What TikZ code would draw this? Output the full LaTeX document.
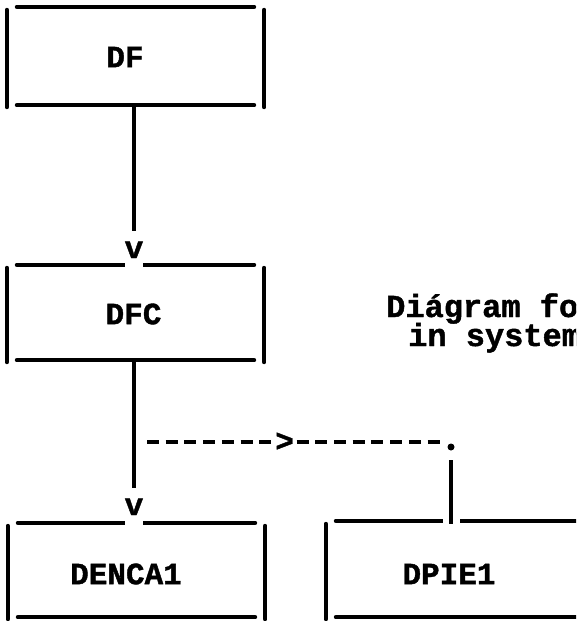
\documentclass[tikz,border=0pt]{standalone}
\usepackage{fontspec}
\setmonofont{Liberation Mono}[BoldFeatures={FakeBold=1.3}]
\usetikzlibrary{positioning}

\begin{document}
\begin{tikzpicture}[
        x=1pt, y=-1pt,
        font=\ttfamily\bfseries\fontsize{31}{37}\selectfont,
        box/.style={rectangle, minimum width=257pt, minimum height=96pt, inner sep=0pt},
        edge/.style={line width=4pt, line cap=round},
        link/.style={line width=4pt},
        tip/.style={fill=white, inner sep=0pt, minimum width=18pt, text depth=10pt, anchor=base},
        dashlink/.style={line width=4pt, dash pattern=on 12pt off 6.7pt},
        dotmark/.style={circle, fill=black, inner sep=0pt, minimum size=7pt},
        note/.style={anchor=base west, inner sep=0pt, font=\ttfamily\bfseries\fontsize{32}{38}\selectfont}
    ]
        \useasboundingbox (0,0) rectangle (576,621);
        \clip (0,0) rectangle (576,621);

        % Boxes
        \node[box, minimum height=98pt] (dfbox) at (135.5,56) {};
        \node[box, minimum height=95pt] (dfcbox) at (135.5,312.5) {};
        \node[box, minimum height=94pt] (dencabox) at (136.5,570) {};
        \node[box, minimum height=96pt, minimum width=274pt] (dpiebox) at (463,569) {};
        \foreach \b in {dfbox,dfcbox,dencabox,dpiebox} {
            \draw[edge] ([xshift=10pt]\b.north west) -- ([xshift=-10pt]\b.north east);
            \draw[edge] ([xshift=10pt]\b.south west) -- ([xshift=-10pt]\b.south east);
            \draw[edge] ([yshift=-3pt]\b.north west) -- ([yshift=-2pt]\b.south west);
            \draw[edge] ([yshift=-3pt]\b.north east) -- ([yshift=-2pt]\b.south east);
        }

        % Labels
        \node (df) at (125,57) {DF};
        \node (dfc) at (133.5,314) {DFC};
        \node (denca) at (126,574) {DENCA1};
        \node (dpie) at (449,574) {DPIE1};
        \node[note] (note1) at (386,317) {Diágram for};
        \node[note] (note2) at (408,346) {in system};

        % Arrow heads
        \node[tip] (v1) at (134,258) {v};
        \node[tip] (v2) at (134,515) {v};

        % Edges
        \draw[link, shorten >=10pt] (dfbox.south -| v1) -- (v1);
        \draw[link, shorten >=10pt] (dfcbox.south -| v2) -- (v2);
        \coordinate (tap) at (147,442);
        \coordinate (bend) at (451,442);
        \draw[dashlink] (tap) -- ([xshift=-11pt]bend) node[pos=0.47, fill=white, inner sep=1pt] (mark) {>};
        \node[dotmark] (dot) at ([yshift=-5pt]bend) {};
        \draw[link, preaction={draw=white, line width=17pt}] ([yshift=-18pt]bend) -- ([yshift=-3pt]dpiebox.north -| bend);
    \end{tikzpicture}
\end{document}
